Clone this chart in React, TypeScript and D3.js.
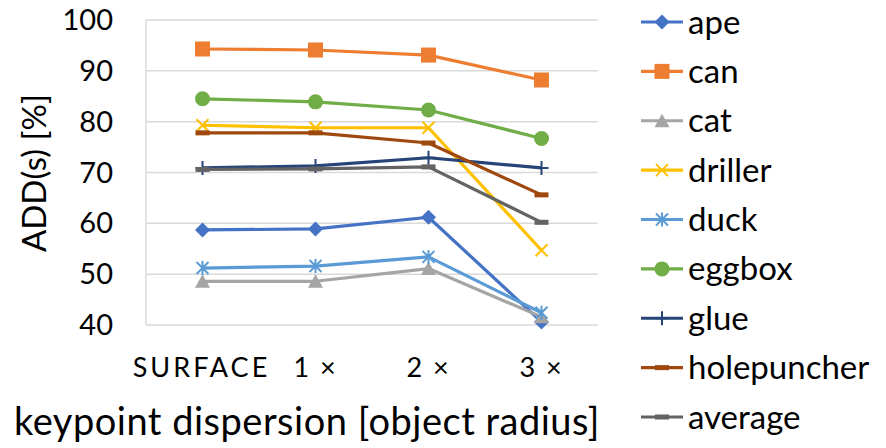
import React from 'react';
import * as d3 from 'd3';

const categories = ['SURFACE', '1 ×', '2 ×', '3 ×'];
const seriesNames = ['ape', 'can', 'cat', 'driller', 'duck', 'eggbox', 'glue', 'holepuncher', 'average'];
const ape = [58.7, 58.9, 61.2, 40.6];
const can = [94.3, 94.1, 93.1, 88.2];
const cat = [48.6, 48.6, 51.1, 41.6];
const driller = [79.3, 78.8, 78.8, 54.7];
const duck = [51.2, 51.6, 53.4, 42.4];
const eggbox = [84.5, 83.9, 82.3, 76.7];
const glue = [70.9, 71.3, 72.9, 70.9];
const holepuncher = [77.8, 77.8, 75.8, 65.6];
const average = [70.6, 70.7, 71.1, 60.2];
const yTicks = [40, 50, 60, 70, 80, 90, 100];

const seriesValues = [ape, can, cat, driller, duck, eggbox, glue, holepuncher, average];
const colors = ['#4472C4', '#ED7D31', '#A5A5A5', '#FFC000', '#5B9BD5', '#70AD47', '#264478', '#9E480E', '#636363'];
const markers = ['diamond', 'square', 'triangle', 'x', 'star', 'circle', 'plus', 'dash', 'dash'];

const W = 886;
const H = 448;
const font = 'Lato, "Open Sans", sans-serif';

function Marker({ type, x, y, color }: { type: string; x: number; y: number; color: string }) {
  switch (type) {
    case 'diamond':
      return <path d={`M${x},${y - 7.5}L${x + 7.5},${y}L${x},${y + 7.5}L${x - 7.5},${y}Z`} fill={color} />;
    case 'square':
      return <rect x={x - 7.5} y={y - 7.5} width={15} height={15} fill={color} />;
    case 'triangle':
      return <path d={`M${x},${y - 7}L${x + 7.5},${y + 6.5}L${x - 7.5},${y + 6.5}Z`} fill={color} />;
    case 'circle':
      return <circle cx={x} cy={y} r={7.5} fill={color} />;
    case 'x':
      return <path d={`M${x - 6},${y - 6}L${x + 6},${y + 6}M${x - 6},${y + 6}L${x + 6},${y - 6}`} stroke={color} strokeWidth={2} fill="none" />;
    case 'star':
      return <path d={`M${x - 6},${y - 6}L${x + 6},${y + 6}M${x - 6},${y + 6}L${x + 6},${y - 6}M${x},${y - 7}L${x},${y + 7}`} stroke={color} strokeWidth={2} fill="none" />;
    case 'plus':
      return <path d={`M${x - 7},${y}L${x + 7},${y}M${x},${y - 7}L${x},${y + 7}`} stroke={color} strokeWidth={2} fill="none" />;
    case 'dash':
      return <rect x={x - 7} y={y - 2.5} width={14} height={5} fill={color} />;
    default:
      return null;
  }
}

export default function App() {
  const x = d3.scalePoint<string>().domain(categories).range([146, 598]).padding(0.5);
  const y = d3.scaleLinear().domain([40, 100]).range([325, 20]);
  const line = d3.line<number>()
    .x((_, i) => x(categories[i]) as number)
    .y(d => y(d));

  const legendY = d3.scalePoint<string>().domain(seriesNames).range([22, 417]);

  return (
    <svg width={W} height={H} style={{ position: 'absolute', left: 0, top: 0, background: '#fff' }}>
      {/* grid */}
      {yTicks.map(t => (
        <line key={t} x1={146} x2={598} y1={y(t)} y2={y(t)} stroke="#D9D9D9" strokeWidth={1.5} />
      ))}
      <line x1={146} x2={146} y1={y(100)} y2={y(40)} stroke="#D9D9D9" strokeWidth={1.5} />

      {/* y tick labels */}
      {yTicks.map(t => (
        <text key={t} x={113} y={y(t)} dy="0.35em" textAnchor="end" fontFamily={font} fontSize={29} fill="#000">{t}</text>
      ))}

      {/* x tick labels */}
      {categories.map((c, i) => (
        <text key={c} x={(x(c) as number) + (i === 0 ? -1 : 0)} y={377} textAnchor="middle" fontFamily={font} fontSize={27}
          letterSpacing={i === 0 ? 3 : 2} fill="#000">{c}</text>
      ))}

      {/* series */}
      {seriesValues.map((vals, si) => (
        <g key={seriesNames[si]}>
          <path d={line(vals) as string} fill="none" stroke={colors[si]} strokeWidth={3.2} strokeLinejoin="round" />
          {vals.map((v, i) => (
            <Marker key={i} type={markers[si]} x={x(categories[i]) as number} y={y(v)} color={colors[si]} />
          ))}
        </g>
      ))}

      {/* axis titles */}
      <text transform={`translate(46,173) rotate(-90)`} textAnchor="middle" fontFamily={font} fontSize={33} fill="#000">ADD(s) [%]</text>
      <text x={307} y={435} textAnchor="middle" fontFamily={font} fontSize={38} letterSpacing={0.5} fill="#000">keypoint dispersion [object radius]</text>

      {/* legend */}
      {seriesNames.map((n, si) => {
        const ly = legendY(n) as number;
        return (
          <g key={n}>
            <line x1={641} x2={683} y1={ly} y2={ly} stroke={colors[si]} strokeWidth={3.2} />
            <Marker type={markers[si]} x={662} y={ly} color={colors[si]} />
            <text x={688} y={ly} dy="0.35em" fontFamily={font} fontSize={33} fill="#000">{n}</text>
          </g>
        );
      })}
    </svg>
  );
}
